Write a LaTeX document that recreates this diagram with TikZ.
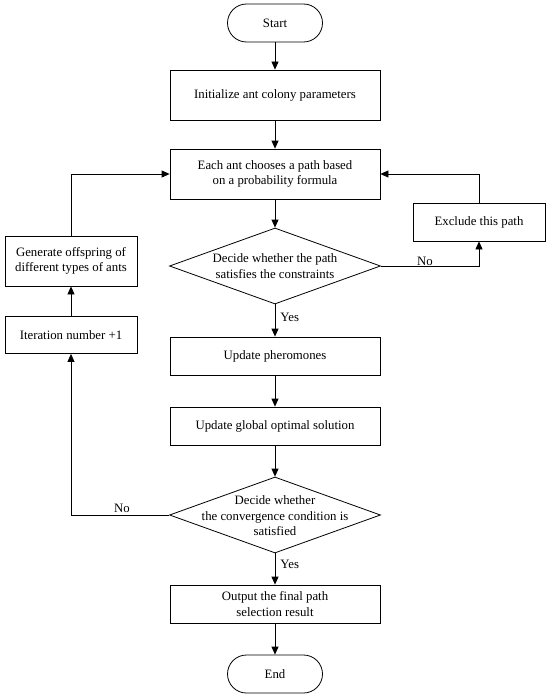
\documentclass[tikz,border=0pt]{standalone}
\usepackage{fontspec}
\setmainfont{Liberation Serif}
\usetikzlibrary{shapes.geometric,arrows.meta}
\begin{document}
\begin{tikzpicture}[x=1pt,y=-1pt,
  font=\fontsize{12.8}{15.5}\selectfont,
  line width=0.8pt,
  >={Triangle[length=8pt,width=7pt]},
  box/.style={draw, minimum width=210pt, minimum height=#1, align=center, inner sep=2pt},
  sbox/.style={draw, minimum width=132pt, minimum height=#1, align=center, inner sep=2pt},
  term/.style={draw, minimum width=95pt, minimum height=38pt, rounded corners=19pt, inner sep=2pt},
  dec/.style={draw, diamond, minimum width=211pt, minimum height=76pt, inner sep=0pt},
  dectext/.style={align=center, inner sep=0pt},
  lbl/.style={inner sep=0pt}]
\useasboundingbox (0,0) rectangle (550,698);
\fill[white] (0,0) rectangle (550,698);

\node[term] (start) at (275,23) {Start};
\node[box=50pt] (init) at (275,95) {Initialize ant colony parameters};
\node[box=50pt] (each) at (275,174) {Each ant chooses a path based\\on a probability formula};
\node[dec] (d1) at (275,266) {};
\node[dectext] (d1t) at (275,266) {Decide whether the path\\satisfies the constraints};
\node[sbox=38pt] (excl) at (479,222) {Exclude this path};
\node[sbox=50pt] (gen) at (71,261) {Generate offspring of\\different types of ants};
\node[sbox=37pt] (iter) at (71,335) {Iteration number +1};
\node[box=38pt] (pher) at (275,356) {Update pheromones};
\node[box=38pt] (glob) at (275,426) {Update global optimal solution};
\node[dec] (d2) at (275,515) {};
\node[dectext] (d2t) at (275,516) {Decide whether\\the convergence condition is\\satisfied};
\node[box=38pt] (out) at (275,604) {Output the final path\\selection result};
\node[term] (end) at (275,674) {End};

\draw[->] (start) -- (init);
\draw[->] (init) -- (each);
\draw[->] (each) -- (d1.north);
\draw[->] (d1.south) -- (pher);
\draw[->] (pher) -- (glob);
\draw[->] (glob) -- (d2.north);
\draw[->] (d2.south) -- (out);
\draw[->] (out) -- (end);
\draw[->] (d1.east) -| (excl.south);
\draw[->] (excl.north) |- (each.east);
\draw[->] (d2.west) -| (iter.south);
\draw[->] (iter) -- (gen);
\draw[->] (gen.north) |- (each.west);

\node[lbl, anchor=west] (yes1) at (280,317) {Yes};
\node[lbl, anchor=west] (yes2) at (280,564) {Yes};
\node[lbl, anchor=base] (no1) at (425,265) {No};
\node[lbl, anchor=base] (no2) at (122,512) {No};
\end{tikzpicture}
\end{document}
